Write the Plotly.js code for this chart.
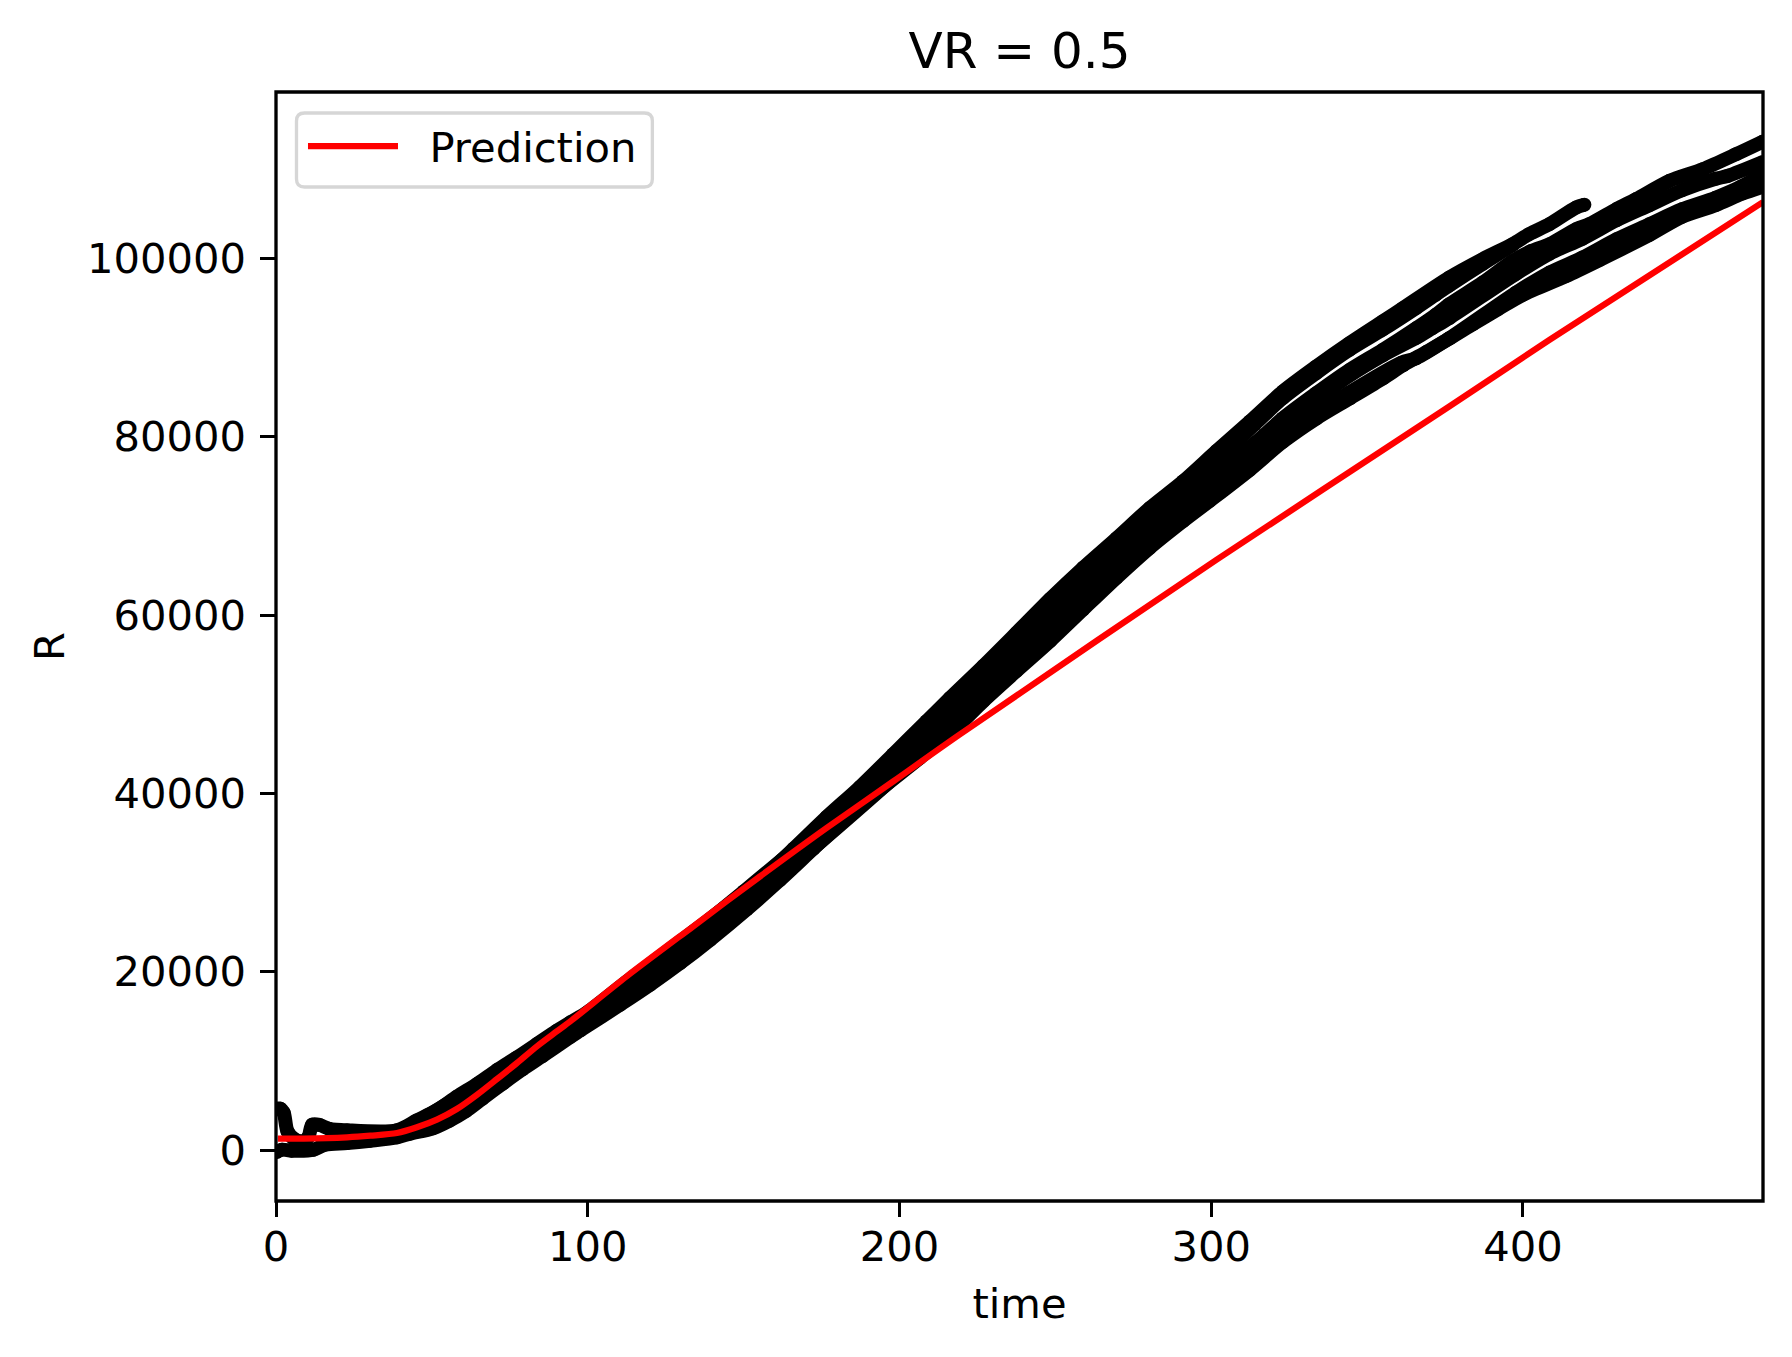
<!DOCTYPE html>
<html>
<head>
<meta charset="utf-8">
<script src="https://cdn.plot.ly/plotly-3.0.1.min.js"></script>
<style>
  html, body { margin: 0; padding: 0; background: #fff; }
  #chart { width: 1792px; height: 1357px; }
</style>
</head>
<body>
<div id="chart"></div>
<script>
// black runs: upper edge of the band, then downwards
const timeA1 = [0.6, 1.4, 2.5, 3.7, 6.2, 9, 10.5, 11.6, 14, 17, 22.8, 38.8, 45.2, 51.6, 58, 64.5, 70.9, 77.3, 83.7, 90.1, 94.4, 100, 112.5, 133.8, 155.3, 166, 176.6, 187.3, 198, 208.7, 216.2, 226.9, 237.5, 248.3, 258.9, 269.6, 280.3, 291, 301.7, 312.4, 323, 333.7, 344.4, 355, 361.5, 376.4, 387.1, 396.7, 402, 408.5, 417, 419.7];
const runA1 = [4650, 4650, 4170, 2100, 1180, 1000, 1550, 2860, 2820, 2400, 2220, 2220, 3340, 4460, 6000, 7420, 8990, 10400, 11900, 13400, 14330, 15500, 18900, 24500, 30300, 33800, 37350, 40720, 44400, 48100, 50700, 54300, 58000, 61800, 65300, 68600, 72000, 75000, 78400, 81700, 85070, 87870, 90490, 92920, 94410, 97850, 99910, 101590, 102710, 103830, 105690, 106000];

const timeA2 = [40, 100, 150, 200, 230, 260, 290, 314, 323, 333.7, 344.4, 355, 365.7, 372, 376.4, 387.1, 396.7];
const runA2 = [2100, 15100, 29000, 44000, 55000, 64300, 73500, 81400, 84340, 87140, 89750, 92000, 94420, 95920, 96970, 99390, 101500];

const timeB1 = [40, 100, 150, 200, 230, 260, 290, 314, 323, 333.7, 344.4, 355, 365.7, 372, 376.4, 387.1, 396.7, 402.7, 408.5, 417, 421.3, 430, 436.3, 447, 457.7, 468.4, 477];
const runB1 = [1900, 14800, 28200, 43300, 54000, 63300, 72800, 79300, 82070, 84870, 87490, 89730, 92150, 93660, 94850, 97280, 99710, 100830, 101570, 103250, 103830, 105520, 106640, 108690, 110000, 111680, 113100];

const timeB2 = [40, 100, 150, 200, 230, 260, 290, 300, 323, 340, 355, 365.7, 371, 376.4, 397.8, 408.5, 419.1, 430, 440.5, 451, 461.8, 465.6, 477];
const runB2 = [1800, 14500, 27800, 42800, 53000, 62500, 71800, 74500, 81000, 85800, 89100, 91070, 92190, 93310, 98270, 100520, 102200, 104260, 105940, 107620, 108920, 109230, 110800];

const timeC1 = [40, 100, 150, 200, 230, 260, 290, 300, 323, 344, 361, 365.7, 376.4, 397.8, 408.5, 419.1, 430, 440.5, 451, 461.8, 470, 477];
const runC1 = [1700, 14200, 27300, 42300, 52300, 62000, 71200, 73800, 80200, 84900, 88300, 88790, 91040, 96160, 98400, 100080, 102130, 103810, 105490, 106800, 108050, 109500];

const timeC2 = [0, 2, 5, 12.1, 15.8, 22.8, 30.3, 38.8, 43, 50.3, 55.6, 61, 66.2, 72.7, 79.1, 85.5, 94.4, 97.6, 110.4, 120, 129.7, 139.3, 151, 161.7, 172.4, 183, 193.7, 206.5, 218, 226.9, 237.5, 248.3, 258.9, 269.6, 280.3, 291, 299.5, 312.4, 323, 333.7, 344.4, 355, 361.5, 369, 376.4, 383.9, 392, 399.9, 413.8, 424.5, 440.5, 451, 461.8, 470.4, 477];
const runC2 = [-245, 56, -56, 56, 617, 800, 1065, 1440, 1850, 2450, 3300, 4400, 5770, 7455, 9060, 10550, 12690, 13420, 16310, 18550, 20990, 23600, 27000, 30300, 33800, 37240, 40400, 43970, 47300, 50360, 53720, 57090, 60630, 64180, 67540, 70540, 72800, 76300, 79430, 82040, 84280, 86520, 88000, 89500, 91000, 92600, 94300, 95900, 98000, 99800, 102600, 104650, 105960, 107260, 108050];

const timePrediction = [0.6, 8.9, 22.8, 30.3, 38.8, 45.2, 51.6, 58, 64.5, 70.9, 77.3, 83.7, 90.1, 94.4, 112.5, 133.8, 155.3, 176.6, 198, 219.2, 301.7, 376.4, 408.5, 477];
const prediction = [1290, 1290, 1440, 1625, 1925, 2560, 3420, 4615, 6220, 7980, 9770, 11640, 13320, 14440, 19490, 25090, 30700, 36120, 41350, 46580, 66200, 83390, 90860, 106300];

const xTicks = [0, 100, 200, 300, 400];
const yTicks = [0, 20000, 40000, 60000, 80000, 100000];

const FONT = "DejaVu Sans, sans-serif";

function run(x, y) {
    return {
        x: x,
        y: y,
        mode: "lines+markers",
        line: { color: "#000000", width: 14, shape: "spline", smoothing: 0.8 },
        marker: { color: "#000000", size: 14 },
        showlegend: false,
        hoverinfo: "skip"
    };
}

const traces = [
    run(timeA1, runA1),
    run(timeA2, runA2),
    run(timeB1, runB1),
    run(timeB2, runB2),
    run(timeC1, runC1),
    run(timeC2, runC2),
    {
        x: timePrediction,
        y: prediction,
        mode: "lines",
        name: "\u00a0\u00a0Prediction",
        line: { color: "#ff0000", width: 6.25, shape: "spline", smoothing: 0.8 }
    }
];

const axisCommon = {
    showgrid: false,
    zeroline: false,
    showline: false,
    ticks: "outside",
    ticklen: 14.6,
    tickwidth: 3.33,
    tickcolor: "#000000",
    tickfont: { size: 41.67, color: "#000000", family: FONT },
    automargin: false
};

function legendBoxPath(x0, x1, y0, y1, r) {
    const px = (v) => ((v - 275.5) / 1487.5).toFixed(5);
    const py = (v) => (1 - (v - 92) / 1109).toFixed(5);
    return "M" + px(x0 + r) + "," + py(y0) +
        " L" + px(x1 - r) + "," + py(y0) +
        " Q" + px(x1) + "," + py(y0) + " " + px(x1) + "," + py(y0 + r) +
        " L" + px(x1) + "," + py(y1 - r) +
        " Q" + px(x1) + "," + py(y1) + " " + px(x1 - r) + "," + py(y1) +
        " L" + px(x0 + r) + "," + py(y1) +
        " Q" + px(x0) + "," + py(y1) + " " + px(x0) + "," + py(y1 - r) +
        " L" + px(x0) + "," + py(y0 + r) +
        " Q" + px(x0) + "," + py(y0) + " " + px(x0 + r) + "," + py(y0) + " Z";
}

const layout = {
    width: 1792,
    height: 1357,
    paper_bgcolor: "#ffffff",
    plot_bgcolor: "#ffffff",
    font: { family: FONT, color: "#000000", size: 41.67 },
    margin: { l: 275.5, r: 29, t: 92, b: 156, pad: 0 },
    title: {
        text: "VR = 0.5",
        font: { size: 50, family: FONT, color: "#000000" },
        x: 0.5,
        xref: "paper",
        xanchor: "center",
        y: 1 - 50 / 1357,
        yref: "container",
        yanchor: "middle"
    },
    xaxis: Object.assign({}, axisCommon, {
        range: [0, 477],
        tickmode: "array",
        tickvals: xTicks,
        ticktext: xTicks.map(String),
        ticklabelstandoff: -6,
        title: { text: "time", font: { size: 41.67, family: FONT, color: "#000000" }, standoff: 19 }
    }),
    yaxis: Object.assign({}, axisCommon, {
        range: [-5700, 118650],
        tickmode: "array",
        tickvals: yTicks,
        ticktext: yTicks.map(String),
        ticklabelstandoff: 6,
        title: { text: "R", font: { size: 41.67, family: FONT, color: "#000000" }, standoff: 9 }
    }),
    legend: {
        x: (302.5 - 275.5) / 1487.5,
        y: 1 - (112.5 - 92) / 1109,
        xanchor: "left",
        yanchor: "top",
        bgcolor: "rgba(0,0,0,0)",
        borderwidth: 0,
        itemwidth: 90,
        itemclick: false,
        font: { size: 41.67, family: FONT, color: "#000000" }
    },
    shapes: [
        {
            // axes frame, centred on the plot edge
            type: "rect",
            xref: "paper",
            yref: "paper",
            x0: 0,
            x1: 1,
            y0: 0,
            y1: 1,
            layer: "above",
            line: { color: "#000000", width: 3.33 }
        },
        {
            // rounded frame of the legend box
            type: "path",
            xref: "paper",
            yref: "paper",
            layer: "above",
            line: { color: "#d6d6d6", width: 3.33 },
            fillcolor: "rgba(255,255,255,0.8)",
            path: legendBoxPath(296, 652, 113, 187, 8)
        }
    ]
};

Plotly.newPlot("chart", traces, layout, { displayModeBar: false, responsive: false });
</script>
</body>
</html>
